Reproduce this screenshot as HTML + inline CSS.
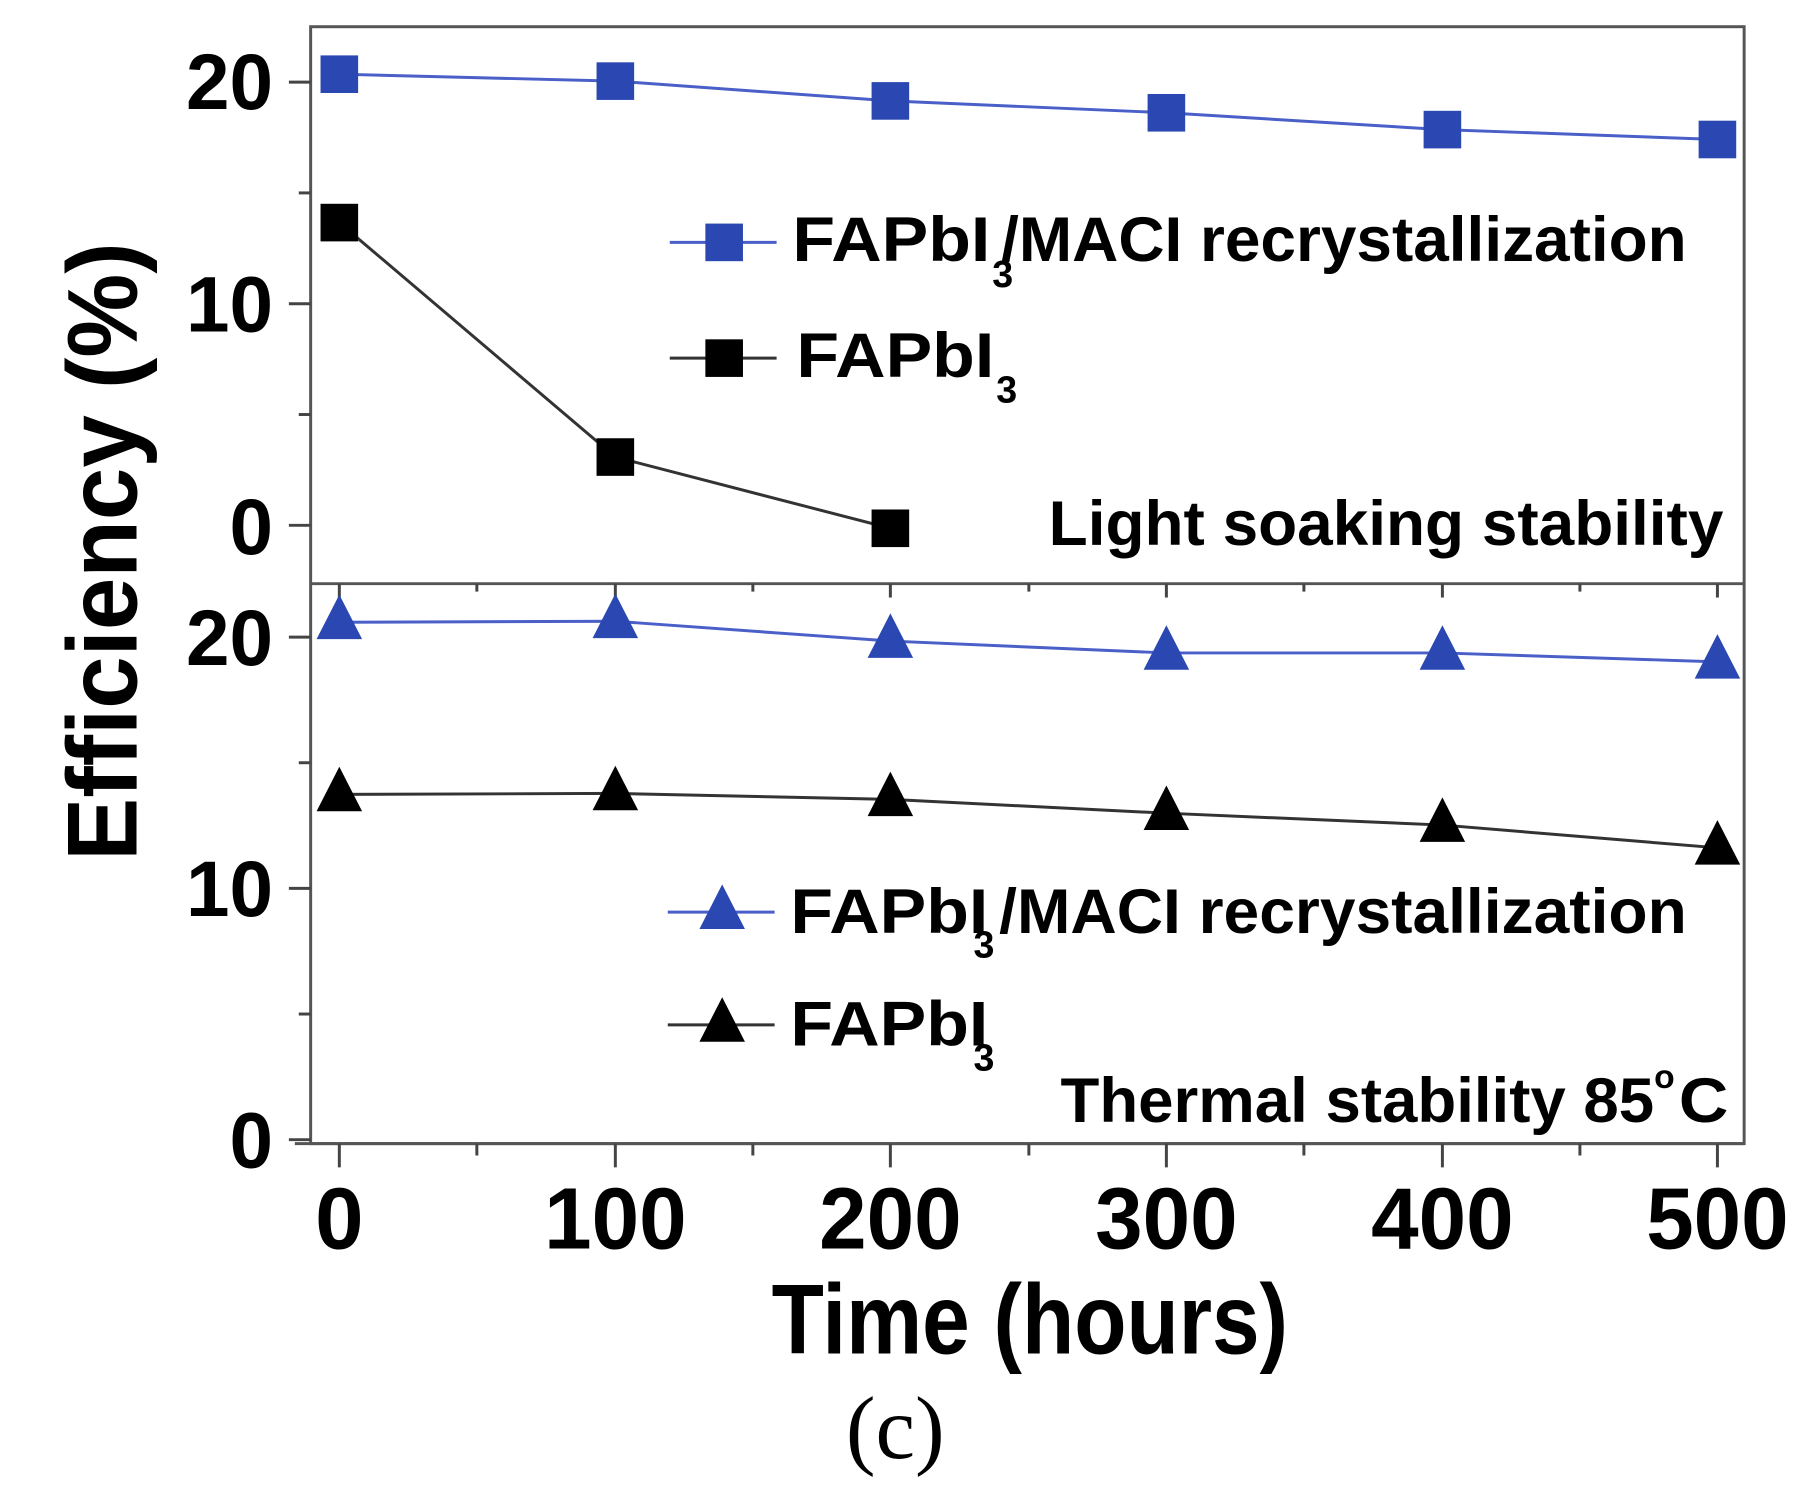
<!DOCTYPE html>
<html><head><style>body{margin:0;background:#fff}svg{display:block}</style></head>
<body>
<svg width="1812" height="1502" viewBox="0 0 1812 1502" xmlns="http://www.w3.org/2000/svg" font-family="'Liberation Sans', Arial, sans-serif" font-weight="bold">
<rect width="1812" height="1502" fill="#fff"/>
<g transform="scale(0.9893)">
<!-- frame -->
<g stroke="#555" stroke-width="3" fill="none">
<rect x="314" y="27" width="1449" height="1129"/>
<line x1="298" y1="1156" x2="1763" y2="1156"/>
<line x1="314" y1="590" x2="1763" y2="590"/>
</g>
<!-- y ticks -->
<g stroke="#444" stroke-width="3">
<line x1="292" y1="83" x2="314" y2="83"/><line x1="302" y1="195" x2="314" y2="195"/>
<line x1="292" y1="307" x2="314" y2="307"/><line x1="302" y1="419" x2="314" y2="419"/>
<line x1="292" y1="531" x2="314" y2="531"/>
<line x1="292" y1="644" x2="314" y2="644"/><line x1="302" y1="771" x2="314" y2="771"/>
<line x1="292" y1="898" x2="314" y2="898"/><line x1="302" y1="1025" x2="314" y2="1025"/>
<line x1="292" y1="1152" x2="314" y2="1152"/>
</g>
<!-- x ticks -->
<g stroke="#444" stroke-width="3">
<line x1="343" y1="1156" x2="343" y2="1180"/><line x1="482" y1="1156" x2="482" y2="1168"/>
<line x1="622" y1="1156" x2="622" y2="1180"/><line x1="761" y1="1156" x2="761" y2="1168"/>
<line x1="900" y1="1156" x2="900" y2="1180"/><line x1="1040" y1="1156" x2="1040" y2="1168"/>
<line x1="1179" y1="1156" x2="1179" y2="1180"/><line x1="1318" y1="1156" x2="1318" y2="1168"/>
<line x1="1458" y1="1156" x2="1458" y2="1180"/><line x1="1597" y1="1156" x2="1597" y2="1168"/>
<line x1="1736" y1="1156" x2="1736" y2="1180"/>
<line x1="343" y1="590" x2="343" y2="604"/><line x1="482" y1="590" x2="482" y2="598"/>
<line x1="622" y1="590" x2="622" y2="604"/><line x1="761" y1="590" x2="761" y2="598"/>
<line x1="900" y1="590" x2="900" y2="604"/><line x1="1040" y1="590" x2="1040" y2="598"/>
<line x1="1179" y1="590" x2="1179" y2="604"/><line x1="1318" y1="590" x2="1318" y2="598"/>
<line x1="1458" y1="590" x2="1458" y2="604"/><line x1="1597" y1="590" x2="1597" y2="598"/>
<line x1="1736" y1="590" x2="1736" y2="604"/>
</g>
<!-- tick labels -->
<g font-size="80" text-anchor="end" fill="#000">
<text x="276" y="110" textLength="88" lengthAdjust="spacingAndGlyphs">20</text>
<text x="276" y="335" textLength="88" lengthAdjust="spacingAndGlyphs">10</text>
<text x="276" y="560" textLength="44" lengthAdjust="spacingAndGlyphs">0</text>
<text x="276" y="672" textLength="88" lengthAdjust="spacingAndGlyphs">20</text>
<text x="276" y="926" textLength="88" lengthAdjust="spacingAndGlyphs">10</text>
<text x="276" y="1180" textLength="44" lengthAdjust="spacingAndGlyphs">0</text>
</g>
<g font-size="88" text-anchor="middle" fill="#000">
<text x="343" y="1262">0</text>
<text x="622" y="1262" textLength="144" lengthAdjust="spacingAndGlyphs">100</text>
<text x="900" y="1262" textLength="144" lengthAdjust="spacingAndGlyphs">200</text>
<text x="1179" y="1262" textLength="144" lengthAdjust="spacingAndGlyphs">300</text>
<text x="1458" y="1262" textLength="144" lengthAdjust="spacingAndGlyphs">400</text>
<text x="1736" y="1262" textLength="144" lengthAdjust="spacingAndGlyphs">500</text>
</g>
<text x="780" y="1368" font-size="100" textLength="522" lengthAdjust="spacingAndGlyphs">Time (hours)</text>
<text transform="translate(138,870) rotate(-90)" font-size="100" textLength="625" lengthAdjust="spacingAndGlyphs">Efficiency (%)</text>
<text x="905" y="1474" font-size="90" font-weight="normal" text-anchor="middle" font-family="'Liberation Serif', serif">(c)</text>
<!-- series top -->
<polyline points="343,75 622,82 900,102 1179,114 1458,131 1736,141" fill="none" stroke="#4a5fc8" stroke-width="3"/>
<polyline points="343,225 622,462 900,534" fill="none" stroke="#333" stroke-width="3"/>
<g fill="#2a47b2">
<rect x="324" y="56" width="38" height="38"/><rect x="603" y="63" width="38" height="38"/>
<rect x="881" y="83" width="38" height="38"/><rect x="1160" y="95" width="38" height="38"/>
<rect x="1439" y="112" width="38" height="38"/><rect x="1717" y="122" width="38" height="38"/>
</g>
<g fill="#000">
<rect x="324" y="206" width="38" height="38"/><rect x="603" y="443" width="38" height="38"/>
<rect x="881" y="515" width="38" height="38"/>
</g>
<!-- series bottom -->
<polyline points="343,629 622,628 900,648 1179,660 1458,660 1736,669" fill="none" stroke="#4a5fc8" stroke-width="3"/>
<polyline points="343,803 622,802 900,808 1179,822 1458,834 1736,857" fill="none" stroke="#333" stroke-width="3"/>
<g fill="#2a47b2">
<path d="M343,601 l23,45 h-46z"/><path d="M622,600 l23,45 h-46z"/><path d="M900,620 l23,45 h-46z"/>
<path d="M1179,632 l23,45 h-46z"/><path d="M1458,632 l23,45 h-46z"/><path d="M1736,641 l23,45 h-46z"/>
</g>
<g fill="#000">
<path d="M343,775 l23,45 h-46z"/><path d="M622,774 l23,45 h-46z"/><path d="M900,780 l23,45 h-46z"/>
<path d="M1179,794 l23,45 h-46z"/><path d="M1458,806 l23,45 h-46z"/><path d="M1736,829 l23,45 h-46z"/>
</g>
<!-- legends top -->
<line x1="677" y1="245" x2="785" y2="245" stroke="#4a5fc8" stroke-width="3"/>
<rect x="713" y="226" width="38" height="38" fill="#2a47b2"/>
<line x1="677" y1="362" x2="785" y2="362" stroke="#333" stroke-width="3"/>
<rect x="713" y="343" width="38" height="38" fill="#000"/>
<g font-size="64" fill="#000">
<text x="801" y="264" textLength="200" lengthAdjust="spacingAndGlyphs">FAPbI</text>
<text x="1003" y="290" font-size="38">3</text>
<text x="1012" y="264" textLength="693" lengthAdjust="spacingAndGlyphs">/MACI recrystallization</text>
<text x="805" y="381" textLength="200" lengthAdjust="spacingAndGlyphs">FAPbI</text>
<text x="1007" y="407" font-size="38">3</text>
<text x="1060" y="551" textLength="682" lengthAdjust="spacingAndGlyphs">Light soaking stability</text>
</g>
<!-- legends bottom -->
<line x1="675" y1="922" x2="783" y2="922" stroke="#4a5fc8" stroke-width="3"/>
<path d="M730,894 l23,45 h-46z" fill="#2a47b2"/>
<line x1="675" y1="1036" x2="783" y2="1036" stroke="#333" stroke-width="3"/>
<path d="M730,1008 l23,45 h-46z" fill="#000"/>
<g font-size="64" fill="#000">
<text x="799" y="943" textLength="200" lengthAdjust="spacingAndGlyphs">FAPbI</text>
<text x="984" y="968" font-size="38">3</text>
<text x="1010" y="943" textLength="695" lengthAdjust="spacingAndGlyphs">/MACI recrystallization</text>
<text x="799" y="1057" textLength="200" lengthAdjust="spacingAndGlyphs">FAPbI</text>
<text x="984" y="1082" font-size="38">3</text>
<text x="1072" y="1134" textLength="600" lengthAdjust="spacingAndGlyphs">Thermal stability 85</text>
<text x="1672" y="1100" font-size="34">o</text>
<text x="1697" y="1134" textLength="50" lengthAdjust="spacingAndGlyphs">C</text>
</g>
</g>
</svg>
</body></html>
